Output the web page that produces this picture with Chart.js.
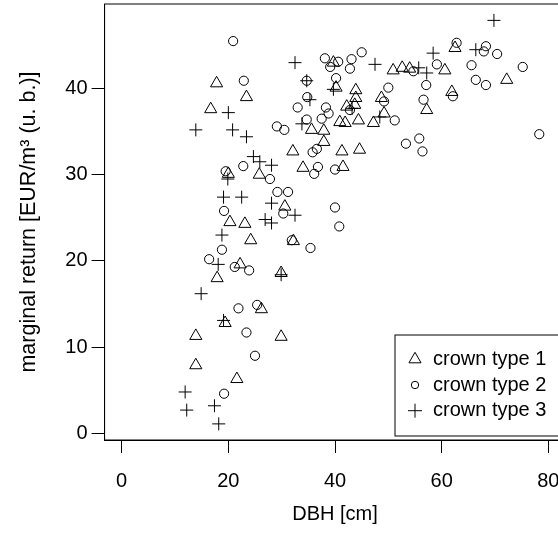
<!DOCTYPE html>
<html>
<head>
<meta charset="utf-8">
<script src="https://cdn.jsdelivr.net/npm/chart.js@4.4.0/dist/chart.umd.min.js"></script>
<style>
html, body { margin: 0; padding: 0; overflow: hidden; background: #fff; width: 558px; height: 534px; }
#wrap { width: 570px; height: 534px; position: relative; }
</style>
</head>
<body>
<div id="wrap"><canvas id="my-chart"></canvas></div>
<script>
'use strict'
///data///

let seriesNames = ['crown type 1', 'crown type 2', 'crown type 3']
let xTicks = [0, 20, 40, 60, 80]
let yTicks = [0, 10, 20, 30, 40]
let xTitle = 'DBH [cm]'
let yTitle = 'marginal return [EUR/m³ (u. b.)]'

//crown type 1 (triangles)
let type1X = [17.8, 23.4, 16.7, 20.0, 25.8, 20.3, 23.1, 24.2, 22.2, 17.9, 26.2, 19.4, 13.9, 13.9, 21.6, 29.9,
  29.9, 32.2, 30.6, 34.0, 41.5, 32.1, 41.3, 44.6, 37.9, 35.6, 37.9, 40.9, 41.9, 44.4, 47.2, 42.2,
  43.7, 43.9, 43.9, 40.2, 39.7, 48.7, 49.2, 50.9, 52.6, 54.0, 57.2, 60.6, 61.9, 62.5, 72.2]
let type1Y = [40.6, 39.0, 37.6, 30.1, 30.0, 24.5, 24.3, 22.4, 19.6, 18.0, 14.4, 12.8, 11.3, 7.9, 6.3, 11.2,
  18.6, 22.3, 26.3, 30.8, 30.9, 32.7, 32.7, 32.9, 33.8, 35.2, 35.1, 36.1, 36.0, 36.3, 36.0, 37.9,
  38.1, 38.9, 39.8, 40.1, 43.0, 38.9, 37.1, 42.1, 42.4, 42.3, 37.5, 42.1, 39.6, 44.7, 41.0]

//crown type 2 (circles)
let type2X = [20.9, 22.9, 22.8, 19.5, 19.2, 18.8, 16.4, 21.2, 23.9, 21.9, 25.4, 23.4, 25.0, 19.2, 27.8, 29.2,
  31.2, 30.3, 31.9, 35.4, 40.0, 40.8, 36.1, 36.8, 40.0, 35.8, 36.6, 29.1, 30.5, 34.7, 37.5, 38.8,
  38.3, 33.0, 34.8, 34.7, 40.2, 38.1, 39.1, 40.6, 43.1, 45.0, 42.8, 42.8, 49.2, 50.0, 51.2, 53.3,
  55.8, 56.4, 56.6, 57.1, 54.7, 59.1, 62.1, 62.8, 65.6, 66.4, 68.3, 68.3, 67.9, 70.4, 75.2, 78.3]
let type2Y = [45.5, 40.9, 31.0, 30.4, 25.8, 21.3, 20.2, 19.3, 18.9, 14.5, 14.9, 11.7, 9.0, 4.6, 29.5, 28.0,
  28.0, 25.5, 22.4, 21.5, 26.2, 24.0, 30.1, 30.9, 30.6, 32.6, 33.0, 35.6, 35.2, 36.4, 36.5, 37.1,
  37.8, 37.8, 39.0, 40.9, 41.2, 43.5, 42.5, 43.1, 43.4, 44.2, 42.3, 37.5, 38.5, 40.1, 36.3, 33.6,
  34.2, 32.7, 38.7, 40.4, 42.0, 42.8, 39.1, 45.3, 42.7, 41.0, 40.4, 44.9, 44.3, 44.0, 42.5, 34.7]

//crown type 3 (plus signs)
let type3X = [20.0, 13.9, 20.8, 23.4, 24.7, 25.9, 28.1, 19.9, 19.1, 22.5, 18.8, 26.9, 28.1, 28.1, 32.5, 18.1,
  14.9, 19.1, 11.9, 12.2, 17.4, 18.2, 29.9, 32.5, 47.5, 34.7, 35.3, 39.7, 43.2, 48.4, 33.8, 55.7,
  57.2, 58.4, 66.4, 69.8]
let type3Y = [37.2, 35.2, 35.2, 34.4, 32.1, 31.5, 31.1, 29.5, 27.4, 27.4, 23.0, 24.8, 24.4, 26.7, 25.3, 19.6,
  16.2, 13.1, 4.8, 2.7, 3.2, 1.1, 18.4, 43.0, 42.8, 40.9, 38.7, 39.9, 37.7, 36.7, 35.9, 42.4,
  41.8, 44.1, 44.5, 47.9]

let ctx = document.getElementById('my-chart').getContext('2d')
let fontFamily = "'Liberation Sans', Arial, sans-serif"

function toPoints(xs, ys) {
  let pts = []
  for (let i = 0; i < xs.length; i++) {
    pts.push({ x: xs[i], y: ys[i] })
  }
  return pts
}

//one entry per crown type
let styles = [
  { pointStyle: 'triangle', radius: 7, legendRadius: 7 },
  { pointStyle: 'circle', radius: 4.6, legendRadius: 3.7 },
  { pointStyle: 'cross', radius: 6.5, legendRadius: 7 }
]
let allX = [type1X, type2X, type3X]
let allY = [type1Y, type2Y, type3Y]

let datasets = []
for (let i = 0; i < seriesNames.length; i++) {
  datasets.push({
    label: seriesNames[i],
    data: toPoints(allX[i], allY[i]),
    pointStyle: styles[i].pointStyle,
    pointRadius: styles[i].radius,
    borderColor: '#000',
    backgroundColor: 'rgba(0,0,0,0)',
    borderWidth: 1
  })
}

function drawSymbol(c, style, x, y, r) {
  c.beginPath()
  if (style === 'triangle') {
    for (let k = 0; k < 3; k++) {
      let a = k * 2 * Math.PI / 3
      let px = x + Math.sin(a) * r
      let py = y - Math.cos(a) * r
      if (k === 0) c.moveTo(px, py); else c.lineTo(px, py)
    }
    c.closePath()
  } else if (style === 'circle') {
    c.arc(x, y, r, 0, 2 * Math.PI)
  } else {
    c.moveTo(x - r, y); c.lineTo(x + r, y)
    c.moveTo(x, y - r); c.lineTo(x, y + r)
  }
  c.stroke()
}

///box round the plot and the legend in the bottom right corner
let boxAndLegend = {
  id: 'boxAndLegend',
  afterDraw(chart) {
    let c = chart.ctx
    let a = chart.chartArea
    c.save()
    c.strokeStyle = '#000'
    c.lineWidth = 1
    c.strokeRect(a.left, a.top, a.right - a.left, a.bottom - a.top)

    //legend
    let lx = 395, ly = 335, lh = 101
    c.fillStyle = '#fff'
    c.fillRect(lx, ly, 200, lh)
    c.strokeRect(lx, ly, 200, lh)
    c.font = '20px ' + fontFamily
    c.textBaseline = 'middle'
    c.textAlign = 'left'
    for (let i = 0; i < seriesNames.length; i++) {
      let ry = ly + 24.3 + i * 25.7
      drawSymbol(c, styles[i].pointStyle, 415, ry, styles[i].legendRadius)
      c.fillStyle = '#000'
      c.fillText(seriesNames[i], 433, ry)
    }
    c.restore()
  }
}

let chartObject = {
  type: 'scatter',
  data: { datasets: datasets },
  options: {
    responsive: true,
    maintainAspectRatio: false,
    animation: false,
    events: [],
    layout: { autoPadding: false, padding: { top: 4, right: 4.6, left: 0, bottom: 0 } },
    plugins: {
      legend: { display: false },
      tooltip: { enabled: false }
    },
    scales: {
      x: {
        type: 'linear',
        min: -3.2,
        max: 83.2,
        afterFit: function (s) {
          s.height = 94
          s.paddingLeft = 0
          s.paddingRight = 0
        },
        afterBuildTicks: function (s) { s.ticks = xTicks.map(v => ({ value: v })) },
        grid: { drawOnChartArea: false, tickLength: 13, color: '#000' },
        border: { color: '#000', width: 1 },
        ticks: { color: '#000', font: { family: fontFamily, size: 20 }, padding: 16, maxRotation: 0 },
        title: { display: true, text: xTitle, color: '#000', font: { family: fontFamily, size: 20 }, padding: { bottom: 8 } }
      },
      y: {
        type: 'linear',
        min: -0.77,
        max: 49.8,
        afterFit: function (s) {
          s.width = 104.6
          s.paddingTop = 0
          s.paddingBottom = 0
        },
        afterBuildTicks: function (s) { s.ticks = yTicks.map(v => ({ value: v })) },
        grid: { drawOnChartArea: false, tickLength: 13, color: '#000' },
        border: { color: '#000', width: 1 },
        ticks: { color: '#000', font: { family: fontFamily, size: 20 }, padding: 4 },
        title: { display: true, text: yTitle, color: '#000', font: { family: fontFamily, size: 21.5 }, padding: { top: 16 } }
      }
    }
  },
  plugins: [boxAndLegend]
}

const myChart = new Chart(ctx, chartObject)
</script>
</body>
</html>
